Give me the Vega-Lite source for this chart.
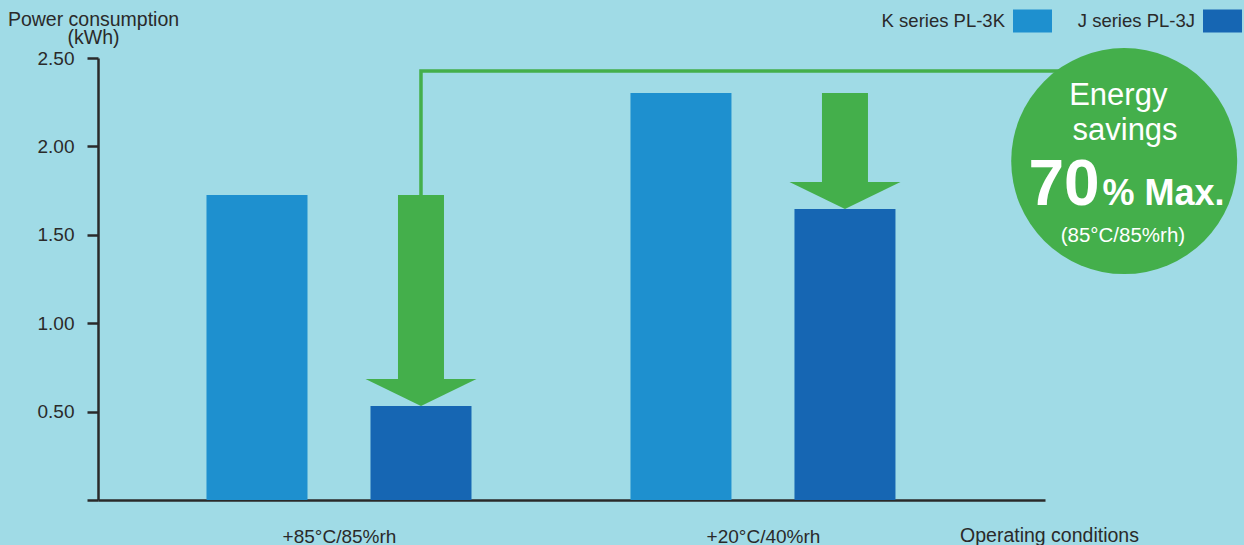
{
  "$schema": "https://vega.github.io/schema/vega-lite/v6.json",
  "width": 947,
  "height": 442,
  "autosize": {"type": "none"},
  "padding": {"left": 98, "top": 58, "right": 199, "bottom": 45},
  "background": "#a0dbe6",
  "config": {
    "view": {"stroke": null},
    "font": "Liberation Sans",
    "axis": {"grid": false, "domainColor": "#2a2a2a", "tickColor": "#2a2a2a", "labelColor": "#2a2a2a", "titleColor": "#2a2a2a", "labelFont": "Liberation Sans", "titleFont": "Liberation Sans", "labelFontSize": 19, "titleFontSize": 19.5, "titleFontWeight": "normal", "zindex": 1}
  },
  "datasets": {
    "bars": [
      {"ci": 1, "cond": "+85°C/85%rh", "series": "K series PL-3K", "kwh": 1.725},
      {"ci": 1, "cond": "+85°C/85%rh", "series": "J series PL-3J", "kwh": 0.532},
      {"ci": 2, "cond": "+20°C/40%rh", "series": "K series PL-3K", "kwh": 2.302},
      {"ci": 2, "cond": "+20°C/40%rh", "series": "J series PL-3J", "kwh": 1.646}
    ],
    "arrows": [
      {"ci": 1, "series": "J series PL-3J", "from": 1.725, "to": 0.532},
      {"ci": 2, "series": "J series PL-3J", "from": 2.302, "to": 1.646}
    ],
    "link": [
      {"step": 1, "ci": 1, "kwh": 1.725},
      {"step": 2, "ci": 1, "kwh": 2.426},
      {"step": 3, "ci": 2.59, "kwh": 2.426}
    ],
    "badge": [{"ci": 2.852, "kwh": 1.917}],
    "badgeText": [
      {"part": "line", "ci": 2.838, "kwh": 2.234, "text": "Energy"},
      {"part": "line", "ci": 2.854, "kwh": 2.036, "text": "savings"},
      {"part": "big", "ci": 2.794, "kwh": 1.669, "text": "70"},
      {"part": "max", "ci": 2.801, "kwh": 1.669, "text": "% Max."},
      {"part": "note", "ci": 2.849, "kwh": 1.462, "text": "(85°C/85%rh)"}
    ]
  },
  "layer": [
    {
      "data": {"name": "bars"},
      "transform": [{"filter": "datum.series == 'K series PL-3K'"}],
      "mark": {"type": "bar", "width": 101, "xOffset": -82},
      "encoding": {
        "x": {
          "field": "ci", "type": "quantitative",
          "scale": {"domain": [0.4434, 2.6534], "nice": false, "zero": false},
          "axis": {"values": [1, 2], "ticks": false, "domainWidth": 2.5, "labelPadding": 42, "labelBaseline": "alphabetic",
            "labelExpr": "datum.value == 1 ? '+85°C/85%rh' : '+20°C/40%rh'",
            "title": "Operating conditions", "titleX": 951, "titleY": 41, "titleAlign": "center", "titleBaseline": "alphabetic", "titleAnchor": null}
        },
        "y": {
          "field": "kwh", "type": "quantitative", "stack": null,
          "scale": {"domain": [0, 2.5], "nice": false},
          "axis": {"values": [0, 0.5, 1, 1.5, 2, 2.5], "labelExpr": "datum.value == 0 ? '' : format(datum.value, '.2f')",
            "tickSize": 11, "tickWidth": 2.5, "domainWidth": 2.5, "labelPadding": 13,
            "title": ["Power consumption", "(kWh)"], "titleAngle": 0, "titleX": -5, "titleY": -33, "titleAlign": "center", "titleBaseline": "alphabetic", "titleLineHeight": 18, "titleAnchor": null}
        },
        "color": {
          "field": "series", "type": "nominal",
          "scale": {"domain": ["K series PL-3K", "J series PL-3J"], "range": ["#1e90cf", "#1666b3"]},
          "legend": {"title": null, "orient": "none", "legendX": 915, "legendY": -57, "direction": "horizontal",
            "symbolType": "M-1,-0.59L1,-0.59L1,0.59L-1,0.59Z", "symbolSize": 1521, "symbolStrokeWidth": 0,
            "labelAlign": "right", "labelOffset": -47, "labelFontSize": 18.5, "labelFont": "Liberation Sans", "labelColor": "#2a2a2a",
            "columnPadding": 25, "padding": 0, "labelLimit": 300}
        }
      }
    },
    {
      "data": {"name": "bars"},
      "transform": [{"filter": "datum.series == 'J series PL-3J'"}],
      "mark": {"type": "bar", "width": 101, "xOffset": 82},
      "encoding": {
        "x": {"field": "ci", "type": "quantitative"},
        "y": {"field": "kwh", "type": "quantitative", "stack": null},
        "color": {"field": "series", "type": "nominal"}
      }
    },
    {
      "data": {"name": "link"},
      "mark": {"type": "line", "color": "#44af4b", "strokeWidth": 3.5, "strokeCap": "butt", "strokeJoin": "miter", "xOffset": 82},
      "encoding": {
        "x": {"field": "ci", "type": "quantitative"},
        "y": {"field": "kwh", "type": "quantitative"},
        "order": {"field": "step"}
      }
    },
    {
      "data": {"name": "arrows"},
      "mark": {"type": "rule", "color": "#44af4b", "strokeWidth": 46, "strokeCap": "butt", "y2Offset": -26, "xOffset": 82},
      "encoding": {
        "x": {"field": "ci", "type": "quantitative"},
        "y": {"field": "from", "type": "quantitative"},
        "y2": {"field": "to"}
      }
    },
    {
      "data": {"name": "arrows"},
      "mark": {"type": "point", "shape": "M-1,-0.486L1,-0.486L0,0Z", "size": 12321, "filled": true, "opacity": 1, "color": "#44af4b", "xOffset": 82},
      "encoding": {
        "x": {"field": "ci", "type": "quantitative"},
        "y": {"field": "to", "type": "quantitative"}
      }
    },
    {
      "data": {"name": "badge"},
      "mark": {"type": "point", "shape": "circle", "size": 51076, "filled": true, "opacity": 1, "color": "#44af4b"},
      "encoding": {
        "x": {"field": "ci", "type": "quantitative"},
        "y": {"field": "kwh", "type": "quantitative"}
      }
    },
    {
      "data": {"name": "badgeText"},
      "transform": [{"filter": "datum.part == 'line'"}],
      "mark": {"type": "text", "color": "white", "fontSize": 31, "font": "Liberation Sans", "align": "center", "baseline": "alphabetic"},
      "encoding": {
        "x": {"field": "ci", "type": "quantitative"},
        "y": {"field": "kwh", "type": "quantitative"},
        "text": {"field": "text"}
      }
    },
    {
      "data": {"name": "badgeText"},
      "transform": [{"filter": "datum.part == 'big'"}],
      "mark": {"type": "text", "color": "white", "fontSize": 64, "fontWeight": "bold", "font": "Liberation Sans", "align": "right", "baseline": "alphabetic"},
      "encoding": {
        "x": {"field": "ci", "type": "quantitative"},
        "y": {"field": "kwh", "type": "quantitative"},
        "text": {"field": "text"}
      }
    },
    {
      "data": {"name": "badgeText"},
      "transform": [{"filter": "datum.part == 'max'"}],
      "mark": {"type": "text", "color": "white", "fontSize": 36, "fontWeight": "bold", "font": "Liberation Sans", "align": "left", "baseline": "alphabetic"},
      "encoding": {
        "x": {"field": "ci", "type": "quantitative"},
        "y": {"field": "kwh", "type": "quantitative"},
        "text": {"field": "text"}
      }
    },
    {
      "data": {"name": "badgeText"},
      "transform": [{"filter": "datum.part == 'note'"}],
      "mark": {"type": "text", "color": "white", "fontSize": 20.5, "font": "Liberation Sans", "align": "center", "baseline": "alphabetic"},
      "encoding": {
        "x": {"field": "ci", "type": "quantitative"},
        "y": {"field": "kwh", "type": "quantitative"},
        "text": {"field": "text"}
      }
    }
  ]
}
